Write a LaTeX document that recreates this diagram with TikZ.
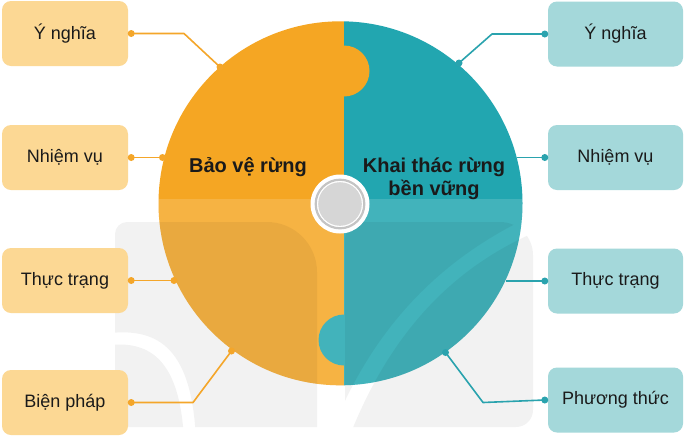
\documentclass[tikz,border=0pt]{standalone}
\usepackage{fontspec}
\setmainfont{Liberation Sans}
\usetikzlibrary{calc}
\definecolor{org}{HTML}{F5A623}
\definecolor{tea}{HTML}{22A6B0}
\definecolor{orgbox}{HTML}{FCD894}
\definecolor{teabox}{HTML}{A4D8DA}
\definecolor{orgline}{HTML}{F4A62A}
\definecolor{tealine}{HTML}{2AA3AE}
\definecolor{ringgray}{HTML}{C4C4C4}
\definecolor{diskgray}{HTML}{D6D6D6}
\definecolor{txt}{HTML}{1A1A1A}
\begin{document}
\begin{tikzpicture}[x=1pt,y=-1pt,
  boxbase/.style={rounded corners=9pt, minimum height=65pt, inner sep=0pt,
    font=\fontsize{18}{20}\selectfont, text=txt},
  lbox/.style={boxbase, fill=orgbox, minimum width=126pt},
  rbox/.style={boxbase, fill=teabox, minimum width=135pt},
  odot/.style={circle, fill=orgline, inner sep=0pt, minimum size=7pt},
  tdot/.style={circle, fill=tealine, inner sep=0pt, minimum size=7pt},
  oline/.style={draw=orgline, line width=1.6pt, line join=round},
  tline/.style={draw=tealine, line width=1.6pt, line join=round},
  logo/.style={fill=black, fill opacity=0.05},
  title/.style={font=\bfseries\fontsize{20}{23}\selectfont, text=txt, align=center, inner sep=0pt},
]
\useasboundingbox (0,0) rectangle (684,437);
\fill[white] (0,0) rectangle (684,437);

% ---- big puzzle circle ----
\coordinate (C) at (340.5,203.3);
\begin{scope}
  \clip (C) circle (182);
  \fill[org] (150,15) rectangle (344,395);
  \fill[tea] (344,15) rectangle (530,395);
  \fill[org] (344,71) circle (25.5);
  \fill[tea] (344,340) circle (25.5);
  \fill[white, opacity=0.15] (150,199) rectangle (530,395);
\end{scope}

% ---- faint watermark ----
\begin{scope}
  \clip (110,333) .. controls (160,328) and (192,350) .. (196,440) -- (330,440) -- (330,200) -- (100,200) -- (100,333) -- cycle;
  \fill[logo] (115,427) -- (115,234) arc[start angle=180,end angle=270,radius=12] -- (267,222)
     arc[start angle=270,end angle=360,radius=50] -- (317,427) -- cycle;
\end{scope}
\begin{scope}
  \clip (110,345) .. controls (150,341) and (180,360) .. (184,440) -- (100,440) -- (100,345) -- cycle;
  \fill[logo] (115,427) -- (115,234) arc[start angle=180,end angle=270,radius=12] -- (267,222)
     arc[start angle=270,end angle=360,radius=50] -- (317,427) -- cycle;
\end{scope}
\begin{scope}
  \clip (343,405) .. controls (385,315) and (450,252) .. (540,212) -- (540,150) -- (300,150) -- (300,440) -- (343,440) -- cycle;
  \fill[logo] (345,427) -- (345,240) arc[start angle=180,end angle=270,radius=18] -- (500,222)
     arc[start angle=270,end angle=360,radius=33] -- (533,410) arc[start angle=0,end angle=90,radius=17] -- cycle;
\end{scope}
\begin{scope}
  \clip (352,430) .. controls (395,325) and (460,262) .. (545,228) -- (560,228) -- (560,440) -- (352,440) -- cycle;
  \fill[logo] (345,427) -- (345,240) arc[start angle=180,end angle=270,radius=18] -- (500,222)
     arc[start angle=270,end angle=360,radius=33] -- (533,410) arc[start angle=0,end angle=90,radius=17] -- cycle;
\end{scope}

% ---- hub ----
\node[circle, fill=white, minimum size=59pt, inner sep=0pt] (hub) at (340,204) {};
\draw[ringgray, line width=2.2pt] (hub.center) circle (24.3);
\fill[diskgray] (hub.center) circle (21.8);

% ---- titles ----
\node[title] (tl) at (248,167) {Bảo vệ rừng};
\node[title] (tr) at (434,178.5) {Khai thác rừng\\bền vững};

% ---- boxes ----
\node[lbox] (lb1) at (65,33.5) {Ý nghĩa};
\node[lbox] (lb2) at (65,157.5) {Nhiệm vụ};
\node[lbox] (lb3) at (65,280.5) {Thực trạng};
\node[lbox] (lb4) at (65,402.5) {Biện pháp};
\node[rbox] (rb1) at (615.5,34) {Ý nghĩa};
\node[rbox] (rb2) at (615.5,157.5) {Nhiệm vụ};
\node[rbox] (rb3) at (615.5,281) {Thực trạng};
\node[rbox] (rb4) at (615.5,400) {Phương thức};

% ---- connector points ----
\coordinate (l1b) at (184,33.5);
\coordinate (l4b) at (193,402.5);
\coordinate (r1b) at (492,34);
\coordinate (r4b) at (483,402.5);
\coordinate (r2c) at (517,157.5);
\coordinate (r3c) at (505.5,281);

\node[odot] (l1s) at ($(lb1.east)+(3,0)$) {};
\node[odot] (l2s) at ($(lb2.east)+(3,0)$) {};
\node[odot] (l3s) at ($(lb3.east)+(3,0)$) {};
\node[odot] (l4s) at ($(lb4.east)+(3,0)$) {};
\node[odot] (l1e) at (220,67) {};
\node[odot] (l2e) at (162.5,157.5) {};
\node[odot] (l3e) at (174,280.5) {};
\node[odot] (l4e) at (231.5,351) {};

\node[tdot] (r1s) at ($(rb1.west)+(-3,0)$) {};
\node[tdot] (r2s) at ($(rb2.west)+(-3,0)$) {};
\node[tdot] (r3s) at ($(rb3.west)+(-3,0)$) {};
\node[tdot] (r4s) at ($(rb4.west)+(-3,0)$) {};
\node[tdot] (r1e) at (459,63) {};
\node[tdot] (r4e) at (445.5,352.5) {};

\draw[oline] (l1s.center) -- (l1b) -- (l1e.center);
\draw[oline] (l2s.center) -- (l2e.center);
\draw[oline] (l3s.center) -- (l3e.center);
\draw[oline] (l4s.center) -- (l4b) -- (l4e.center);
\draw[tline] (r1s.center) -- (r1b) -- (r1e.center);
\draw[tline] (r2s.center) -- (r2c);
\draw[tline] (r3s.center) -- (r3c);
\draw[tline] (r4s.center) -- (r4b) -- (r4e.center);
\end{tikzpicture}
\end{document}
